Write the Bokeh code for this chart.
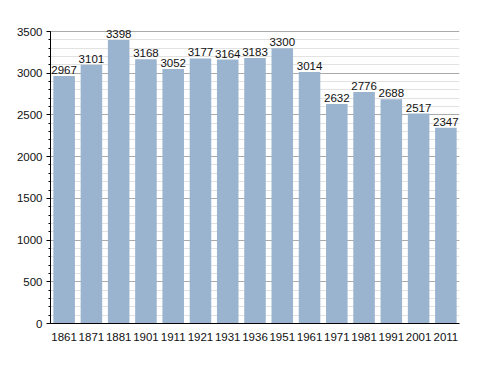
from bokeh.plotting import figure
from bokeh.models import ColumnDataSource, FactorRange, Range1d, FixedTicker, LabelSet
from bokeh.core.properties import value
from bokeh.embed import file_html
from bokeh.resources import INLINE

years = ["1861", "1871", "1881", "1901", "1911", "1921", "1931", "1936",
         "1951", "1961", "1971", "1981", "1991", "2001", "2011"]
population = [2967, 3101, 3398, 3168, 3052, 3177, 3164, 3183,
              3300, 3014, 2632, 2776, 2688, 2517, 2347]
y_ticks = list(range(0, 3501, 500))
y_minor = list(range(0, 3501, 100))

src = ColumnDataSource(dict(x=years, y=population, lab=[str(v) for v in population]))

# frame extends 14px above the 3500 line so the top labels are not clipped
y_top = 3500 * 306 / 292
p = figure(x_range=FactorRange(*years), y_range=Range1d(0, y_top),
           width=472, height=357, output_backend="svg", toolbar_location=None,
           min_border_left=50, min_border_right=13, min_border_top=17, min_border_bottom=34)
p.outline_line_color = None
p.background_fill_color = "white"

p.vbar(x="x", top="y", width=0.79, source=src, fill_color="#9ab3cf", line_color=None)
labels = LabelSet(x="x", y="y", text="lab", source=src, text_align="center", text_baseline="bottom",
                  y_offset=2, text_font=value("Liberation Sans"), text_font_size="11.5px",
                  text_color="#111111")
p.add_layout(labels)

p.x_range.range_padding = 0.0
p.x_range.factor_padding = 0.0
p.xgrid.grid_line_color = None
p.ygrid.ticker = FixedTicker(ticks=y_ticks, minor_ticks=y_minor)
p.ygrid.grid_line_color = "#aaaaaa"
p.ygrid.minor_grid_line_color = "#e2e2e2"
p.ygrid.level = "underlay"

p.yaxis.ticker = FixedTicker(ticks=y_ticks, minor_ticks=y_minor)
p.yaxis.bounds = (0, 3500)
p.yaxis.major_tick_in = 0
p.yaxis.major_tick_out = 4
p.yaxis.minor_tick_in = 0
p.yaxis.minor_tick_out = 2
p.yaxis.axis_line_color = "black"
p.yaxis.major_label_text_font = "Liberation Sans"
p.yaxis.major_label_text_font_size = "11.5px"
p.yaxis.major_label_text_color = "#111111"
p.yaxis.major_label_standoff = 4

p.xaxis.major_tick_line_color = None
p.xaxis.minor_tick_line_color = None
p.xaxis.axis_line_color = "black"
p.xaxis.major_label_text_font = "Liberation Sans"
p.xaxis.major_label_text_font_size = "11.5px"
p.xaxis.major_label_text_color = "#111111"
p.xaxis.major_label_standoff = 3

open("out.html", "w").write(file_html(p, INLINE))
